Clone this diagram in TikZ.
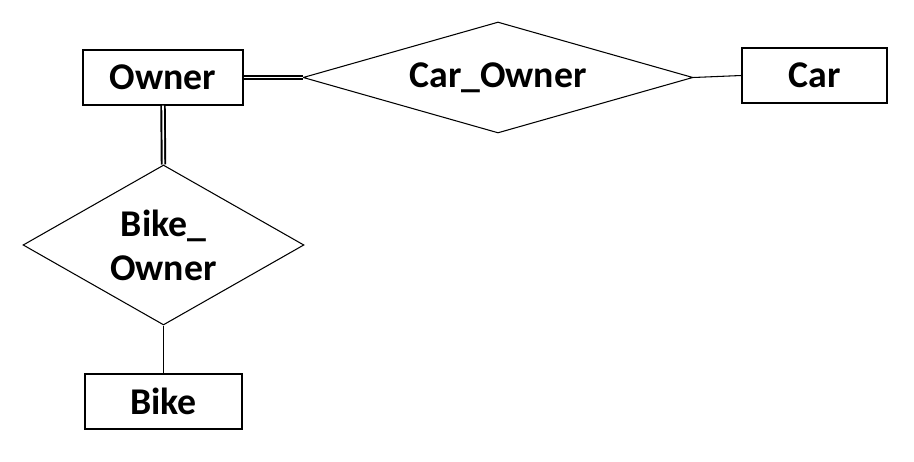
\documentclass[tikz,border=0pt]{standalone}
\usepackage{fontspec}
\setmainfont{Carlito}
\usepackage{tikz}
\usetikzlibrary{positioning,shapes.geometric}

\begin{document}
\begin{tikzpicture}[x=0.02cm, y=-0.02cm,
    entity/.style={draw, line width=0.6pt, minimum width=#1, minimum height=1.1cm,
                   inner sep=0pt, font=\fontsize{21.5}{25}\selectfont\bfseries},
    rel/.style={draw, diamond, line width=0.6pt, inner sep=0pt, align=center,
                font=\fontsize{21.5}{25}\selectfont\bfseries},
    total/.style={double, line width=1.1pt, double distance=0.9pt},
  ]
  \useasboundingbox (0,0) rectangle (914,462);

  %% Entities
  \node[entity=3.2cm]  (owner) at (163,77.5)  {Owner};
  \node[entity=2.9cm]  (car)   at (814.5,75.5) {Car};
  \node[entity=3.14cm] (bike)  at (163.5,401.5) {Bike};

  %% Relationships
  \node[rel, aspect=3.5, minimum width=7.8cm, minimum height=2.22cm] (carowner) at (498,77.5) {Car\_Owner};
  \node[rel, aspect=1.76, minimum width=5.62cm, minimum height=3.2cm] (bikeowner) at (163.5,245) {Bike\_\\Owner};

  %% Links
  \draw[total] (owner.east) -- (carowner.west);
  \draw[line width=0.6pt] (carowner.east) -- (car.west);
  \draw[total] (owner.south) -- (bikeowner.north);
  \draw[line width=0.6pt] (bikeowner.south) -- (bike.north);
\end{tikzpicture}
\end{document}
